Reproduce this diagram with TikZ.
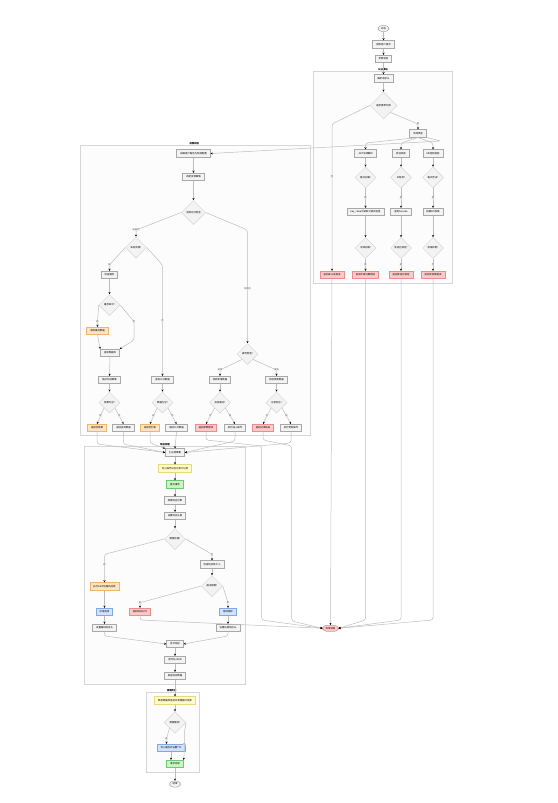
\documentclass[tikz,border=0pt]{standalone}
\usepackage{fontspec}
\setmainfont{Noto Sans CJK SC}
\usetikzlibrary{shapes.geometric, arrows.meta, calc}

\definecolor{boxfill}{HTML}{F3F3F3}
\definecolor{boxline}{HTML}{A8A8A8}
\definecolor{warnfill}{HTML}{FFE3C2}
\definecolor{warnline}{HTML}{F2B46A}
\definecolor{errfill}{HTML}{FFC9C9}
\definecolor{errline}{HTML}{EE8C8C}
\definecolor{notefill}{HTML}{FFFBC8}
\definecolor{noteline}{HTML}{E6DA7A}
\definecolor{okfill}{HTML}{C9F5C4}
\definecolor{okline}{HTML}{6CCB6C}
\definecolor{infofill}{HTML}{CFE2FF}
\definecolor{infoline}{HTML}{7FA8E6}
\definecolor{edgeline}{HTML}{BDBDBD}
\definecolor{groupline}{HTML}{D6D6D6}

\begin{document}
\begin{tikzpicture}[x=1pt, y=1pt, node distance=16pt, font=\fontsize{2.4}{2.8}\selectfont]
    \tikzstyle{startstop} = [rectangle, rounded corners=3.5pt, minimum height=6pt, inner xsep=3pt, inner ysep=0.8pt, text centered, draw=boxline, fill=boxfill, line width=0.5pt]
    \tikzstyle{process} = [rectangle, minimum height=7.4pt, inner xsep=3.5pt, inner ysep=0.8pt, text centered, draw=boxline, fill=boxfill, line width=0.7pt]
    \tikzstyle{decision} = [diamond, aspect=1, minimum size=21pt, inner sep=0pt, text centered, draw=groupline, fill=boxfill, line width=0.5pt]
    \tikzstyle{warnbox} = [process, draw=warnline, fill=warnfill]
    \tikzstyle{errbox} = [process, draw=errline, fill=errfill]
    \tikzstyle{notebox} = [process, draw=noteline, fill=notefill]
    \tikzstyle{okbox} = [process, draw=okline, fill=okfill]
    \tikzstyle{infobox} = [process, draw=infoline, fill=infofill]
    \tikzstyle{group} = [draw=groupline, fill=gray!2, line width=0.6pt]
    \tikzstyle{grouptitle} = [anchor=south, inner sep=0.4pt, font=\fontsize{2.4}{2.8}\selectfont\bfseries]
    \tikzstyle{lbl} = [fill=gray!12, inner sep=0.3pt, text=gray!70!black, font=\fontsize{2.2}{2.6}\selectfont]
    \tikzstyle{arrow} = [line width=0.5pt, draw=edgeline, rounded corners=2.5pt, -{Stealth[length=2.2pt, width=2pt, color=black]}]

    \useasboundingbox (0,0) rectangle (557,-803);

    \draw [group] (313,-71) rectangle (452,-283);
    \draw [group] (80,-145) rectangle (310.7,-435);
    \draw [group] (84,-446.7) rectangle (245.7,-684);
    \draw [group] (146,-692.3) rectangle (199.3,-772.3);
    \node (authtitle) [grouptitle] at (383,-71) {认证模块};
    \node (permtitle) [grouptitle] at (194.3,-145) {权限校验};
    \node (resptitle) [grouptitle] at (165,-446.7) {响应处理};
    \node (cleantitle) [grouptitle] at (171.7,-692.3) {清理阶段};

    \node (start) [startstop] at (383.5,-28.5) {开始};
    \node (recv) [process, below of=start] {接收用户请求};
    \node (check) [process, below of=recv, yshift=1.5pt] {参数校验};
    \node (parse) [process, below of=check, yshift=-3.5pt] {解析请求头};
    \node (hastok) [decision, minimum size=27pt, below of=parse, yshift=-11pt] {是否携带令牌};
    \node (ttype) [process, below of=hastok, xshift=34.5pt, yshift=-12pt] {令牌类型};
    \node (jwt) [process, below of=ttype, xshift=-52.5pt, yshift=-4pt] {JWT令牌解析};
    \node (sess) [process, below of=ttype, xshift=-17pt, yshift=-4pt] {会话校验};
    \node (apik) [process, below of=ttype, xshift=15pt, yshift=-4pt] {API密钥校验};
    \node (jwtfmt) [decision, below of=jwt, yshift=-8pt] {格式正确?};
    \node (sessid) [decision, below of=sess, yshift=-8pt] {ID有效?};
    \node (apifmt) [decision, below of=apik, yshift=-8pt] {格式合法?};
    \node (jwtkey) [process, below of=jwtfmt, yshift=-18.5pt] {key\_store中读取公钥并验签};
    \node (sessget) [process, below of=sessid, yshift=-18.5pt] {查询Session};
    \node (apiperm) [process, below of=apifmt, yshift=-18.5pt] {加载API权限};
    \node (jwtexp) [decision, below of=jwtkey, yshift=-20pt] {令牌过期?};
    \node (sesslock) [decision, below of=sessget, yshift=-20pt] {会话已锁定?};
    \node (apimatch) [decision, below of=apiperm, yshift=-20pt] {权限匹配?};
    \node (jwterr) [errbox, below of=jwtexp, yshift=-11pt] {返回令牌过期错误};
    \node (sesserr) [errbox, below of=sesslock, yshift=-11pt] {返回会话已锁定};
    \node (apierr) [errbox, below of=apimatch, yshift=-11pt] {返回无权限错误};
    \node (noauth) [errbox, left of=jwterr, xshift=-17.5pt] {返回未认证错误};

    \node (loadrole) [process] at (193.5,-153.5) {加载用户角色与权限配置};
    \node (matchpol) [process, below of=loadrole, yshift=-7.5pt] {匹配资源策略};
    \node (restype) [decision, minimum size=24pt, below of=matchpol, yshift=-19.5pt] {资源访问类型};
    \node (private) [decision, below of=restype, xshift=-57.5pt, yshift=-19pt] {私有资源?};
    \node (chkcache) [process, below of=private, xshift=-26.5pt, yshift=-11.5pt] {检查缓存};
    \node (cachehit) [decision, below of=chkcache, yshift=-14pt] {缓存命中?};
    \node (readcache) [warnbox, below of=cachehit, xshift=-12pt, yshift=-10pt] {读取缓存数据};
    \node (querydb) [process, below of=cachehit, xshift=0.5pt, yshift=-32pt] {查询数据库};
    \node (fmtres) [process, below of=querydb, xshift=-0.5pt, yshift=-11pt] {格式化结果集};
    \node (isempty) [decision, below of=fmtres, yshift=-6.5pt] {结果为空?};
    \node (emptyres) [warnbox, below of=isempty, xshift=-12.5pt, yshift=-9.5pt] {返回空结果};
    \node (retdata) [process, below of=isempty, xshift=14pt, yshift=-9.5pt] {返回查询数据};
    \node (pubquery) [process, right of=fmtres, xshift=37pt] {查询公开数据};
    \node (pubempty) [decision, below of=pubquery, yshift=-6.5pt] {数据为空?};
    \node (pubnone) [warnbox, below of=pubempty, xshift=-12.5pt, yshift=-9.5pt] {返回空列表};
    \node (pubdata) [process, below of=pubempty, xshift=14pt, yshift=-9.5pt] {返回公开数据};
    \node (optype) [decision, below of=restype, xshift=54pt, yshift=-125.5pt] {操作类型?};
    \node (chkadd) [process, below of=optype, xshift=-27.5pt, yshift=-10pt] {校验新增数据};
    \node (chkupd) [process, below of=optype, xshift=29pt, yshift=-10pt] {校验更新数据};
    \node (addok) [decision, below of=chkadd, yshift=-6.5pt] {校验通过?};
    \node (updhas) [decision, below of=chkupd, yshift=-6.5pt] {记录存在?};
    \node (adderr) [errbox, below of=addok, xshift=-14pt, yshift=-9.5pt] {返回参数错误};
    \node (doins) [process, below of=addok, xshift=15pt, yshift=-9.5pt] {执行插入操作};
    \node (upderr) [errbox, below of=updhas, xshift=-13.5pt, yshift=-9.5pt] {返回记录缺失};
    \node (doupd) [process, below of=updhas, xshift=14.5pt, yshift=-9.5pt] {执行更新操作};

    \node (merge) [process] at (175,-452.5) {汇总结果集};
    \node (auditlog) [notebox, below of=merge] {写入操作日志与审计记录};
    \node (commit) [okbox, below of=auditlog] {提交事务};
    \node (buildres) [process, below of=commit] {构建响应对象};
    \node (sethead) [process, below of=buildres, yshift=0.5pt] {设置响应头部};
    \node (needzip) [decision, below of=sethead, yshift=-7pt] {需要压缩?};
    \node (dozip) [warnbox, below of=needzip, xshift=-70.5pt, yshift=-31.5pt] {执行GZIP压缩响应体};
    \node (zipdone) [infobox, below of=dozip, yshift=-9.5pt] {压缩完成};
    \node (resenc) [process, below of=zipdone] {设置编码响应头};
    \node (chksize) [process, below of=needzip, xshift=37pt, yshift=-9.5pt] {检查响应体大小};
    \node (toobig) [decision, below of=chksize, yshift=-5.5pt] {超出限制?};
    \node (bigerr) [errbox, below of=toobig, xshift=-72pt, yshift=-10pt] {返回响应过大};
    \node (keepraw) [infobox, below of=toobig, xshift=16pt, yshift=-10pt] {保持原样};
    \node (reslen) [process, below of=keepraw] {设置长度响应头};
    \node (mergeresp) [process, below of=reslen, xshift=-53pt] {合并响应};
    \node (tojson) [process, below of=mergeresp] {序列化JSON};
    \node (sendres) [process, below of=tojson] {发送响应数据};
    \node (release) [notebox, below of=sendres, yshift=-8.5pt] {释放数据库连接并清理临时资源};
    \node (needcache) [decision, minimum size=21.6pt, below of=release, yshift=-6pt] {需要缓存?};
    \node (cachewr) [infobox, below of=needcache, xshift=-4pt, yshift=-9.5pt] {写入缓存并设置TTL};
    \node (reqdone) [okbox, below of=cachewr, xshift=4pt] {请求完成};
    \node (stop) [startstop, below of=reqdone, yshift=-4pt] {结束};
    \node (errend) [startstop, draw=errline, fill=errfill] at (330.5,-628.3) {异常结束};

    \draw [arrow] (start) -- (recv);
    \draw [arrow] (recv) -- (check);
    \draw [arrow] (check) -- (parse);
    \draw [arrow] (parse) -- (hastok);
    \draw [arrow] (hastok.west) -- (noauth.north |- 0,-124) -- node [lbl, pos=0.36] {否} (noauth.north);
    \draw [arrow] (hastok.south east) -- (ttype.north |- 0,-124) node [lbl] {是} -- (ttype.north);
    \draw [arrow] (ttype.south) -- (jwt.north |- 0,-143) -- (jwt.north);
    \draw [arrow] (ttype.south) -- (sess.north |- 0,-143) -- (sess.north);
    \draw [arrow] (ttype.south) -- (apik.north |- 0,-143) -- (apik.north);
    \draw [arrow] (ttype.south east) -- (441,-141) -- (loadrole.east);

    \draw [arrow] (jwt) -- (jwtfmt);
    \draw [arrow] (sess) -- (sessid);
    \draw [arrow] (apik) -- (apifmt);
    \draw [arrow] (jwtfmt) -- node [lbl] {是} (jwtkey);
    \draw [arrow] (sessid) -- node [lbl] {是} (sessget);
    \draw [arrow] (apifmt) -- node [lbl] {是} (apiperm);
    \draw [arrow] (jwtkey) -- (jwtexp);
    \draw [arrow] (sessget) -- (sesslock);
    \draw [arrow] (apiperm) -- (apimatch);
    \draw [arrow] (jwtexp) -- node [lbl] {是} (jwterr);
    \draw [arrow] (sesslock) -- node [lbl] {是} (sesserr);
    \draw [arrow] (apimatch) -- node [lbl] {否} (apierr);

    \draw [arrow] (noauth.south) -- (errend.north);
    \draw [arrow] (jwterr.south) -- (jwterr.south |- 0,-620) -- (errend.east);
    \draw [arrow] (sesserr.south) -- (sesserr.south |- 0,-620) -- (errend.east);
    \draw [arrow] (apierr.south) -- (apierr.south |- 0,-620) -- (errend.east);

    \draw [arrow] (loadrole) -- (matchpol);
    \draw [arrow] (matchpol) -- (restype);
    \draw [arrow] (restype.west) -- (private.north |- 0,-230) node [lbl] {读操作} -- (private.north);
    \draw [arrow] (restype.east) -- (optype.north |- 0,-230) -- node [lbl, pos=0.52] {写操作} (optype.north);
    \draw [arrow] (private.west) -- (chkcache.north |- 0,-265) node [lbl] {是} -- (chkcache.north);
    \draw [arrow] (private.east) -- (pubquery.north |- 0,-265) -- node [lbl] {否} (pubquery.north);
    \draw [arrow] (chkcache) -- (cachehit);
    \draw [arrow] (cachehit.west) -- (readcache.north |- 0,-321.7) node [lbl] {是} -- (readcache.north);
    \draw [arrow] (cachehit.east) -- (134,-321.7) node [lbl] {否} -- (134,-340) -- (querydb.north east);
    \draw [arrow] (readcache.south) -- (querydb.north west);
    \draw [arrow] (querydb) -- (fmtres);
    \draw [arrow] (fmtres) -- (isempty);
    \draw [arrow] (isempty.south west) -- node [lbl] {是} (emptyres.north);
    \draw [arrow] (isempty.south east) -- node [lbl] {否} (retdata.north);
    \draw [arrow] (pubquery) -- (pubempty);
    \draw [arrow] (pubempty.south west) -- node [lbl] {是} (pubnone.north);
    \draw [arrow] (pubempty.south east) -- node [lbl] {否} (pubdata.north);
    \draw [arrow] (optype.south west) -- (chkadd.north |- 0,-370) node [lbl] {新增} -- (chkadd.north);
    \draw [arrow] (optype.south east) -- (chkupd.north |- 0,-370) node [lbl] {更新} -- (chkupd.north);
    \draw [arrow] (chkadd) -- (addok);
    \draw [arrow] (chkupd) -- (updhas);
    \draw [arrow] (addok.south west) -- node [lbl] {否} (adderr.north);
    \draw [arrow] (addok.south east) -- node [lbl] {是} (doins.north);
    \draw [arrow] (updhas.south west) -- node [lbl] {否} (upderr.north);
    \draw [arrow] (updhas.south east) -- node [lbl] {是} (doupd.north);

    \draw [arrow] (emptyres.south) -- (emptyres.south |- 0,-444) -- (merge.west);
    \draw [arrow] (retdata.south) -- (retdata.south |- 0,-444) -- (merge.west);
    \draw [arrow] (pubnone.south) -- (pubnone.south |- 0,-443) -- (merge.north west);
    \draw [arrow] (pubdata.south) -- (merge.north);
    \draw [arrow] (doins.south) -- (doins.south |- 0,-441) -- (merge.east);
    \draw [arrow] (doupd.south) -- (doupd.south |- 0,-443) -- (merge.east);
    \draw [arrow] (adderr.south) -- (adderr.south |- 0,-440) -- (261.7,-446) -- (261.7,-620) -- (errend.west);
    \draw [arrow] (upderr.south) -- (upderr.south |- 0,-440) -- (291.7,-446) -- (291.7,-621) -- (errend.west);

    \draw [arrow] (merge) -- (auditlog);
    \draw [arrow] (auditlog) -- (commit);
    \draw [arrow] (commit) -- (buildres);
    \draw [arrow] (buildres) -- (sethead);
    \draw [arrow] (sethead) -- (needzip);
    \draw [arrow] (needzip.west) -- (dozip.north |- 0,-554.3) -- node [lbl, pos=0.36] {是} (dozip.north);
    \draw [arrow] (needzip.east) -- (chksize.north |- 0,-554.3) node [lbl] {否} -- (chksize.north);
    \draw [arrow] (dozip) -- (zipdone);
    \draw [arrow] (zipdone) -- (resenc);
    \draw [arrow] (chksize) -- (toobig);
    \draw [arrow] (toobig.west) -- (bigerr.north |- 0,-602.7) node [lbl] {是} -- (bigerr.north);
    \draw [arrow] (toobig.east) -- (keepraw.north |- 0,-602.7) node [lbl] {否} -- (keepraw.north);
    \draw [arrow] (keepraw) -- (reslen);
    \draw [arrow] (bigerr.south) -- (bigerr.south |- 0,-620) -- (errend.west);
    \draw [arrow] (resenc.south) -- (resenc.south |- 0,-636) -- (mergeresp.west);
    \draw [arrow] (reslen.south) -- (reslen.south |- 0,-636) -- (mergeresp.east);
    \draw [arrow] (mergeresp) -- (tojson);
    \draw [arrow] (tojson) -- (sendres);
    \draw [arrow] (sendres) -- (release);
    \draw [arrow] (release) -- (needcache);
    \draw [arrow] (needcache.south west) -- ($(cachewr.north)+(-4.5,5)$) node [lbl] {是} -- ($(cachewr.north)+(-4.5,0)$);
    \draw [arrow] (needcache.east) -- (184.3,-733) -- node [lbl, pos=0.6] {否} (184.3,-752) -- (reqdone.north east);
    \draw [arrow] (cachewr.south) -- (cachewr.south |- reqdone.north);
    \draw [arrow] (reqdone) -- (stop);
\end{tikzpicture}
\end{document}
